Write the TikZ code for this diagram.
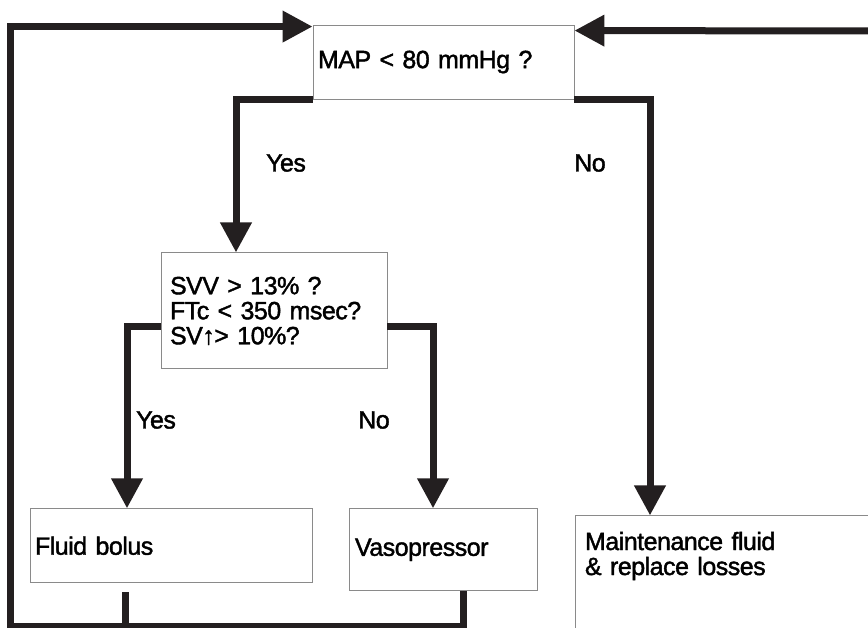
\documentclass[tikz,border=0pt]{standalone}
\usepackage{fontspec}
\setmainfont{Liberation Sans}[FakeBold=1.6, LetterSpace=-2]
\usepackage{tikz}
\usetikzlibrary{positioning, arrows.meta, calc}
\definecolor{flowc}{HTML}{231F20}
\definecolor{boxc}{HTML}{8A8A8A}

\begin{document}
\begin{tikzpicture}[x=1pt, y=-1pt,
  box/.style={draw=boxc, line width=0.9pt, align=left, inner xsep=5pt,
    font=\fontsize{25}{25}\selectfont},
  lbl/.style={font=\fontsize{25}{25}\selectfont},
  flow/.style={draw=flowc, line width=7pt},
  tip/.style={-{Triangle[length=30pt,width=30pt]}}]
\useasboundingbox (0,0) rectangle (868,627);
\node (MAP) [box, text width=251pt, minimum height=74pt] at (443.5,62) {MAP < 80 mmHg ?};
\node (SVV) [box, inner xsep=9pt, text width=208pt, minimum height=116pt, below=153pt of MAP, xshift=-169.5pt]
  {SVV > 13\% ?\\FTc < 350 msec?\\SV↑> 10\%?};
\node (FB) [box, text width=272pt, minimum height=74pt, below=139pt of SVV, xshift=-103pt] {Fluid bolus};
\node (VP) [box, inner xsep=6pt, text width=176pt, minimum height=82pt, below=139pt of SVV, xshift=169pt] {Vasopressor};
\node (MF) [box, inner xsep=10pt, inner ysep=16pt, text width=310pt, text depth=95pt, below=416pt of MAP, xshift=296.5pt]
  {Maintenance fluid\\\& replace losses};
\node (Y1) [lbl] at (286,163) {Yes};
\node (N1) [lbl] at (590,163) {No};
\node (Y2) [lbl] at (156,420) {Yes};
\node (N2) [lbl] at (374,420) {No};
\coordinate (R) at (872,31);
\draw[flow, tip] (MAP.south west) -| ([xshift=-38pt]SVV.north);
\draw[flow, tip] (MAP.south east) -| ([xshift=-90pt]MF.north);
\draw[flow, tip] ([yshift=-16pt]SVV.west) -| ([xshift=-44pt]FB.north);
\draw[flow, tip] ([yshift=-16pt]SVV.east) -| ([xshift=-10pt]VP.north);
\draw[flow] ([xshift=20pt]VP.south) |- (125,626);
\draw[flow, tip] ([xshift=-46pt,yshift=-9pt]FB.south) |- (10,626) |- ([yshift=-2pt]MAP.north west);
\draw[flow, tip] (R) -- ([yshift=-6pt]MAP.north east);
\end{tikzpicture}
\end{document}
